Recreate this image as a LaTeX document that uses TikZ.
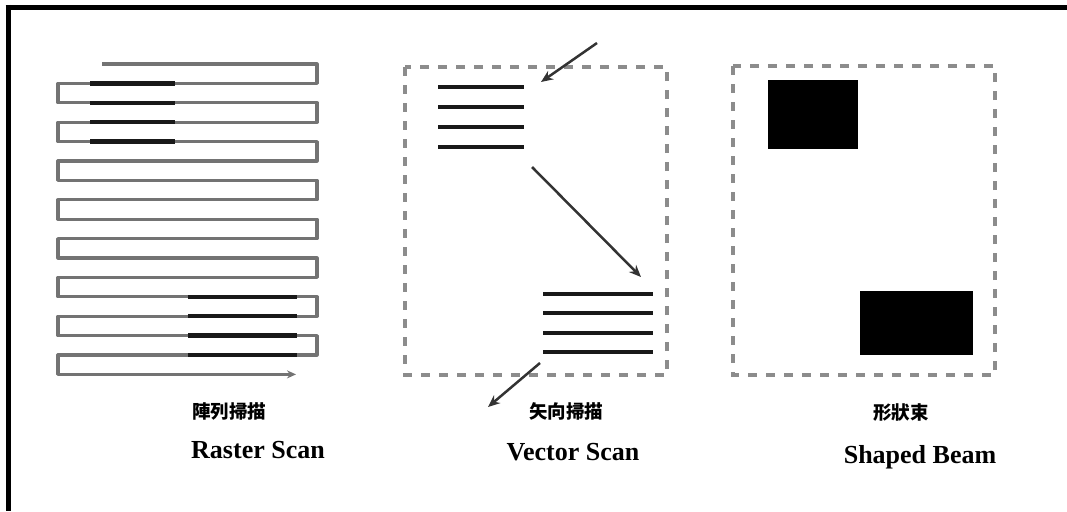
\documentclass[tikz,border=0pt]{standalone}
\usepackage{fontspec}
\setmainfont{Liberation Serif}
\newfontfamily\cjk{Noto Sans CJK TC}
\usetikzlibrary{arrows.meta}
\definecolor{serpgray}{RGB}{115,115,115}
\definecolor{dashgray}{RGB}{140,140,140}
\begin{document}
\begin{tikzpicture}[x=1pt,y=-1pt,
  frameline/.style={line width=5pt,black},
  serp/.style={line width=3.2pt,serpgray,line join=round},
  expose/.style={line width=4.5pt,black!90},
  field/.style={line width=4pt,dashgray,dash pattern=on 9pt off 9pt},
  vline/.style={line width=3.5pt,black!90},
  jump/.style={line width=2.5pt,black!80,-{Stealth[length=12pt,width=10pt]}},
  zh/.style={font=\cjk\bfseries\fontsize{18.5}{18.5}\selectfont,inner sep=0pt},
  en/.style={font=\bfseries\fontsize{26}{26}\selectfont,inner sep=0pt},
  shot/.style={fill=black}
]
\path[use as bounding box] (0,0) rectangle (1067,511);
\fill[white] (0,0) rectangle (1067,511);
% frame (top and left only)
\draw[frameline] (5.5,7.5) -- (1067,7.5);
\draw[frameline] (8,5) -- (8,511);

% ---------- Raster scan ----------
\draw[serp,-{Stealth[length=9pt,width=8pt]}] (102,64) -- (317,64) -- (317,83.4) -- (58,83.4) -- (58,102.8) -- (317,102.8) -- (317,122.2) -- (58,122.2) -- (58,141.6) -- (317,141.6) -- (317,161) -- (58,161) -- (58,180.4) -- (317,180.4) -- (317,199.8) -- (58,199.8) -- (58,219.2) -- (317,219.2) -- (317,238.6) -- (58,238.6) -- (58,258) -- (317,258) -- (317,277.4) -- (58,277.4) -- (58,296.8) -- (317,296.8) -- (317,316.2) -- (58,316.2) -- (58,335.6) -- (317,335.6) -- (317,355) -- (58,355) -- (58,374.4) -- (296,374.4);
\foreach \y in {83.4,102.8,122.2,141.6}{\draw[expose] (90,\y) -- (175,\y);}
\foreach \y in {296.8,316.2,335.6,355}{\draw[expose] (188,\y) -- (297,\y);}
\node[zh] (rzh) at (229,411) {陣列掃描};
\node[en] (ren) at (258,450) {Raster Scan};

% ---------- Vector scan ----------
\draw[field] (405,67) rectangle (667,375);
\foreach \y in {87,107,127,147}{\draw[vline] (438,\y) -- (524,\y);}
\foreach \y in {294,313,333,352}{\draw[vline] (543,\y) -- (653,\y);}
\coordinate (a1s) at (597,43);
\coordinate (a1e) at (541,82);
\coordinate (a2s) at (532,167);
\coordinate (a2e) at (641,277);
\coordinate (a3s) at (540,363);
\coordinate (a3e) at (488,407);
\draw[jump] (a1s) -- (a1e);
\draw[jump] (a2s) -- (a2e);
\draw[jump] (a3s) -- (a3e);
\node[zh] (vzh) at (566,411) {矢向掃描};
\node[en] (ven) at (573,452) {Vector Scan};

% ---------- Shaped beam ----------
\draw[field] (733,66) rectangle (995,375);
\fill[shot] (768,80) rectangle (858,149);
\fill[shot] (860,291) rectangle (973,355);
\node[zh] (szh) at (901,413) {形狀束};
\node[en,anchor=base] (sen) at (920,463) {Shaped Beam};
\end{tikzpicture}
\end{document}
